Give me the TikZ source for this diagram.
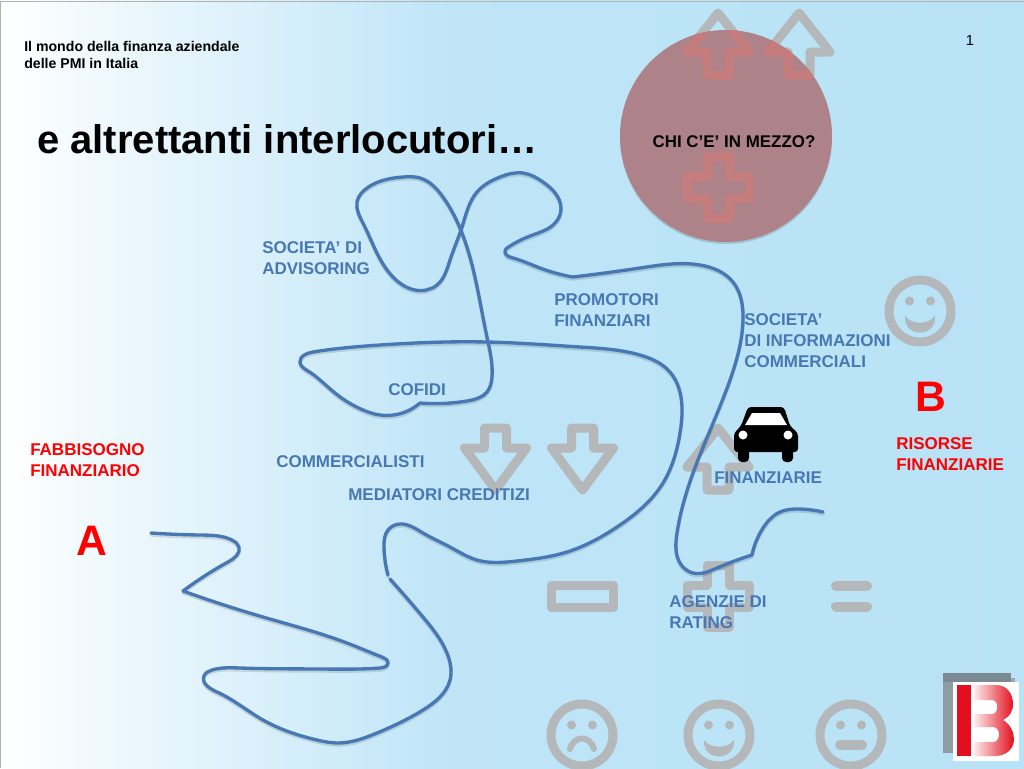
\documentclass[tikz,border=0pt]{standalone}
\usepackage{fontspec}
\setmainfont{Liberation Sans}
\usetikzlibrary{calc,hobby}
\definecolor{wireblue}{RGB}{72,120,180}
\definecolor{iconGray}{RGB}{181,184,186}
\definecolor{iconRed}{RGB}{196,124,124}
\definecolor{skyend}{RGB}{184,226,246}
\definecolor{skymid}{RGB}{191,229,247}
\definecolor{bubble}{RGB}{174,130,137}
\definecolor{logored}{RGB}{227,15,30}
\definecolor{logogray}{RGB}{122,138,149}
\pgfdeclarehorizontalshading{slidebg}{100bp}{color(0bp)=(white); color(25bp)=(white); color(30bp)=(skymid!25!white); color(37bp)=(skymid!55!white); color(47bp)=(skymid); color(75bp)=(skyend); color(100bp)=(skyend)}
\tikzset{
	lbl/.style={inner sep=0, anchor=north west, align=left, text=wireblue, font=\bfseries\fontsize{12.75}{15.75}\selectfont},
	redlbl/.style={lbl, text=red},
	bigred/.style={inner sep=0, text=red, font=\bfseries\fontsize{32}{38}\selectfont},
	icon/.style={draw=iconGray, line width=6.75pt, line join=round, line cap=round},
	uparr/.pic={\draw[icon] (0,5) -- (31,44) -- (11,44) -- (11,67) -- (-11,67) -- (-11,44) -- (-31,44) -- cycle;},
	dnarr/.pic={\draw[icon] (0,67) -- (31,25) -- (11,25) -- (11,5) -- (-11,5) -- (-11,25) -- (-31,25) -- cycle;},
	plusicon/.pic={\draw[icon] (-11,-31) -- (11,-31) -- (11,-11) -- (31,-11) -- (31,11) -- (11,11) -- (11,31) -- (-11,31) -- (-11,11) -- (-31,11) -- (-31,-11) -- (-11,-11) -- cycle;},
	faceicon/.pic={\draw[icon] (0,0) circle (31);
		\fill[iconGray] (-10.5,-10) circle (4.5) (10.5,-10) circle (4.5);},
	wire/.style={draw=wireblue, line width=2.5pt, line cap=round, line join=round, use Hobby shortcut},
}
\def\wirepath{(151,533) .. (200,535) .. (232,540) .. (239,547) .. (228,562) .. (183,591)
	(183,591) .. (263,617) .. (347,643) .. (382,657) .. (388,663) .. (380,668) .. (320,669) .. (240,668) .. (212,670) .. (204,676) .. (217,692) .. (263,720) .. (317,740) .. (337,743) .. (377,733) .. (423,710) .. (450,680) .. (447,653) .. (423,617) .. (390,579)
	(388,575) .. (384,547) .. (388,530) .. (400,524) .. (423,533) .. (450,547) .. (477,560) .. (517,561) .. (567,552) .. (617,527) .. (663,483) .. (680,433) .. (682,407) .. (670,372) .. (640,355) .. (580,347) .. (487,342) .. (380,345) .. (313,352) .. (300,362) .. (308,371) .. (335,393) .. (363,410) .. (380,415) .. (420,403)
	(420,403) .. (467,401) .. (487,392) .. (492,377) .. (487,337) .. (462,233) .. (443,197) .. (420,178) .. (403,177) .. (367,188) .. (357,202) .. (363,223) .. (393,277) .. (415,290) .. (437,285) .. (450,260) .. (462,227) .. (477,192) .. (500,177) .. (523,173) .. (543,182) .. (561,208) .. (556,222) .. (530,236) .. (507,248)
	(507,248) .. (505,252) .. (513,258) .. (540,268) .. (573,277)
	(573,277) .. (640,268) .. (700,265) .. (733,282) .. (743,320) .. (730,380) .. (693,473) .. (677,533) .. (680,563) .. (693,573) .. (717,568) .. (752,555)
	(752,555) .. (763,528) .. (780,512) .. (800,509) .. (823,512)}

\begin{document}
\begin{tikzpicture}[x=0.75pt, y=-0.75pt]
	%%%%% START %%%%%
	\useasboundingbox (0, 0) rectangle (1024, 768);
	\shade[shading=slidebg] (0, 0) rectangle (1024, 768);
	\draw[line width=0.75pt, color=black!30] (0, 1) -- (1024, 1);
	\draw[line width=0.75pt, color=black!30] (0, 1) -- (0, 768);

	% grey icons
	\pic at (718, 8) {uparr};
	\pic at (799, 8) {uparr};
	\pic at (718, 423) {uparr};
	\pic at (495.5, 423) {dnarr};
	\pic at (582.5, 423) {dnarr};
	\pic at (718, 596) {plusicon};
	\draw[icon] (551.5, 585.5) rectangle (613.5, 607.5);
	\draw[icon, line width=7.5pt] (836, 586) -- (867, 586);
	\draw[icon, line width=7.5pt] (836, 606.5) -- (867, 606.5);
	\pic at (920, 311) {faceicon};
	\pic at (582, 735) {faceicon};
	\pic at (719, 735) {faceicon};
	\pic at (851, 735) {faceicon};
	\fill[iconGray] (905, 316) .. controls (912, 325) and (928, 325) .. (935, 316) .. controls (937, 338) and (903, 338) .. (905, 316);
	\fill[iconGray] (704, 740) .. controls (711, 749) and (727, 749) .. (734, 740) .. controls (736, 762) and (702, 762) .. (704, 740);
	\draw[iconGray, line width=4.5pt, line cap=round] (570, 749) .. controls (574, 735) and (590, 735) .. (594, 749);
	\draw[iconGray, line width=7.5pt, line cap=round] (840, 745) -- (862, 745);

	% bubble
	\fill[black, opacity=0.15] (726, 138) circle (106);
	\fill[bubble] (726, 136) circle (106);
	\begin{scope}
		\clip (726, 136) circle (106);
		\colorlet{iconGray}{iconRed}
		\pic at (718, 8) {uparr};
		\pic at (799, 8) {uparr};
		\pic at (718, 187) {plusicon};
	\end{scope}
	\node[inner sep=0, font=\bfseries\fontsize{12.7}{15}\selectfont] (question) at (734, 142) {CHI C’E’ IN MEZZO?};

	% the winding line
	\draw[wire, draw=black, opacity=0.12, yshift=-1.5pt] \wirepath;
	\draw[wire] \wirepath;

	% car
	\fill[black, rounded corners=2.5pt] (734, 452) -- (734, 433) -- (741, 426) -- (748, 407) -- (784, 407) -- (790, 426) -- (798, 433) -- (798, 452) -- cycle;
	\fill[black, rounded corners=3pt] (738, 445) rectangle (749, 462);
	\fill[black, rounded corners=3pt] (782, 445) rectangle (793, 462);
	\fill[white] (745, 425) -- (752, 413) -- (780, 413) -- (787, 425) -- cycle;
	\fill[white] (743, 435) circle (4.5) (788, 435) circle (4.5);

	% logo
	\fill[logogray!75!white] (1011, 678) rectangle (1015, 757);
	\fill[logogray!85!white] (943, 673) rectangle (953, 753);
	\fill[logogray] (943, 673) rectangle (1011, 682);
	\fill[white] (953, 682) rectangle (1019, 761);
	\fill[logored] (957, 685) rectangle (971, 756);
	\shade[left color=logored!8!white, middle color=logored, right color=logored, even odd rule] (974, 685) -- (996, 685) .. controls (1008, 685) and (1013, 695) .. (1013, 704) .. controls (1013, 712) and (1009, 717) .. (1003, 720) .. controls (1010, 724) and (1014, 732) .. (1014, 739) .. controls (1014, 749) and (1006, 756) .. (995, 756) -- (974, 756) -- (974, 742) -- (993, 742) .. controls (1001, 742) and (1001, 727) .. (993, 727) -- (974, 727) -- (974, 714) -- (992, 714) .. controls (999, 714) and (999, 700) .. (992, 700) -- (974, 700) -- cycle;

	% texts
	\node[inner sep=0, anchor=north west, align=left, font=\bfseries\fontsize{10.6}{12.5}\selectfont] (heading) at (24, 41) {Il mondo della finanza aziendale\\delle PMI in Italia};
	\node[inner sep=0, anchor=west, font=\bfseries\fontsize{30}{34}\selectfont] (title) at (37, 139) {e altrettanti interlocutori…};
	\node[inner sep=0, font=\fontsize{11}{13}\selectfont] (pagenum) at (970, 40) {1};

	\node[lbl] (advisoring) at (262, 241.5) {SOCIETA’ DI\\ADVISORING};
	\node[lbl] (promotori) at (554, 293.5) {PROMOTORI\\FINANZIARI};
	\node[lbl] (informazioni) at (744, 313.5) {SOCIETA’\\DI INFORMAZIONI\\COMMERCIALI};
	\node[lbl] (cofidi) at (388, 383) {COFIDI};
	\node[lbl] (commercialisti) at (276, 455.5) {COMMERCIALISTI};
	\node[lbl] (mediatori) at (348, 488.5) {MEDIATORI CREDITIZI};
	\node[lbl] (finanziarie) at (714, 471.5) {FINANZIARIE};
	\node[lbl] (rating) at (669, 595.5) {AGENZIE DI\\RATING};
	\node[redlbl] (fabbisogno) at (30, 443) {FABBISOGNO\\FINANZIARIO};
	\node[redlbl] (risorse) at (896, 437) {RISORSE\\FINANZIARIE};
	\node[bigred] (lettera) at (92, 541) {A};
	\node[bigred] (letterb) at (931, 397) {B};
	%%%%% END %%%%%
\end{tikzpicture}
\end{document}
